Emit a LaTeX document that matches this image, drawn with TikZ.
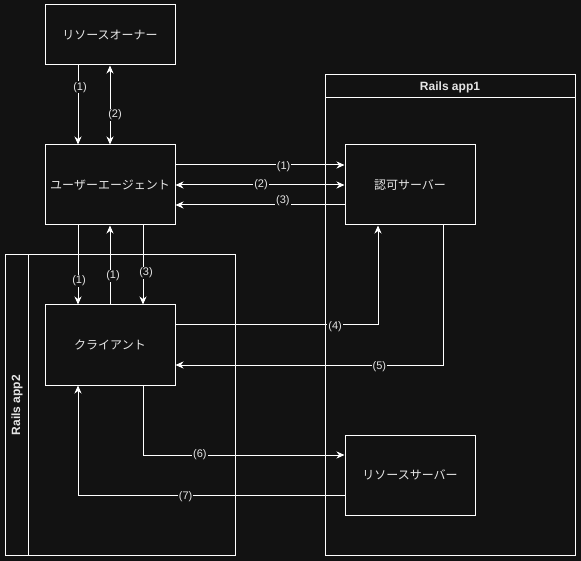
\documentclass[tikz,border=0pt]{standalone}
\usepackage{fontspec}
\setmainfont{Liberation Sans}
\newfontfamily\jp{Noto Sans CJK JP}
\usetikzlibrary{arrows.meta}
\definecolor{bg}{HTML}{121212}
\definecolor{fg}{HTML}{E6E6E6}
\begin{document}
\begin{tikzpicture}[x=1pt,y=-1pt,
  tip/.tip={Stealth[length=8pt,width=7pt,inset=2.5pt]},
  box/.style={draw=white, fill=bg, line width=1pt, minimum width=130pt, inner sep=0pt, text=fg, font=\jp\fontsize{12}{14}\selectfont},
  container/.style={draw=white, line width=1pt},
  conn/.style={draw=white, line width=1pt, -tip},
  biconn/.style={draw=white, line width=1pt, tip-tip},
  lbl/.style={fill=bg, text=fg, font=\fontsize{11}{13}\selectfont, inner sep=1pt},
  title/.style={text=fg, font=\bfseries\fontsize{12}{14}\selectfont}]
\fill[bg] (0,0) rectangle (581,561);
\useasboundingbox (0,0) rectangle (581,561);

% containers
\draw[container] (325,75) rectangle (575,555);
\draw[container] (325,98) -- (575,98);
\node[title] (t1) at (450,87) {Rails app1};
\draw[container] (5,255) rectangle (235,555);
\draw[container] (28,255) -- (28,555);
\node[title, rotate=90] (t2) at (17,405) {Rails app2};

% boxes
\node[box, minimum height=60pt] (owner) at (110,35) {リソースオーナー};
\node[box, minimum height=80pt] (agent) at (110,185) {ユーザーエージェント};
\node[box, minimum height=80pt] (auth) at (410,185) {認可サーバー};
\node[box, minimum height=80pt] (client) at (110,345) {クライアント};
\node[box, minimum height=80pt] (rs) at (410,475) {リソースサーバー};

% owner <-> agent
\draw[conn] ([xshift=-32pt]owner.south) -- node[lbl, pos=0.275, xshift=2pt] {(1)} ([xshift=-32pt]agent.north);
\draw[biconn] (owner.south) -- node[lbl, pos=0.625, xshift=5pt] {(2)} (agent.north);

% agent <-> auth
\draw[conn] ([yshift=20pt]agent.east) -- node[lbl, pos=0.64, yshift=-2pt] {(1)} ([yshift=20pt]auth.west);
\draw[biconn] (agent.east) -- node[lbl, pos=0.506] {(2)} (auth.west);
\draw[conn] ([yshift=-20pt]auth.west) -- node[lbl, pos=0.365, yshift=4pt] {(3)} ([yshift=-20pt]agent.east);

% agent <-> client
\draw[conn] ([xshift=-32pt]agent.south) -- node[lbl, pos=0.7, xshift=1pt] {(1)} ([xshift=-32pt]client.north);
\draw[conn] (client.north) -- node[lbl, pos=0.36, xshift=3pt] {(1)} (agent.north |- agent.south);
\draw[conn] ([xshift=33pt]agent.south) -- node[lbl, pos=0.6, xshift=3pt] {(3)} ([xshift=33pt]client.north);

% client <-> auth
\draw[conn] ([yshift=20pt]client.east) -| node[lbl, pos=0.394, yshift=-2pt] {(4)} ([xshift=-32pt]auth.south);
\draw[conn] ([xshift=33pt]auth.south) |- node[lbl, pos=0.619, yshift=-2pt] {(5)} ([yshift=-20pt]client.east);

% client <-> resource server
\draw[conn] ([xshift=33pt]client.south) |- node[lbl, pos=0.641] {(6)} ([yshift=20pt]rs.west);
\draw[conn] ([yshift=-20pt]rs.west) -| node[lbl, pos=0.298, yshift=-2pt] {(7)} ([xshift=-32pt]client.south);
\end{tikzpicture}
\end{document}
